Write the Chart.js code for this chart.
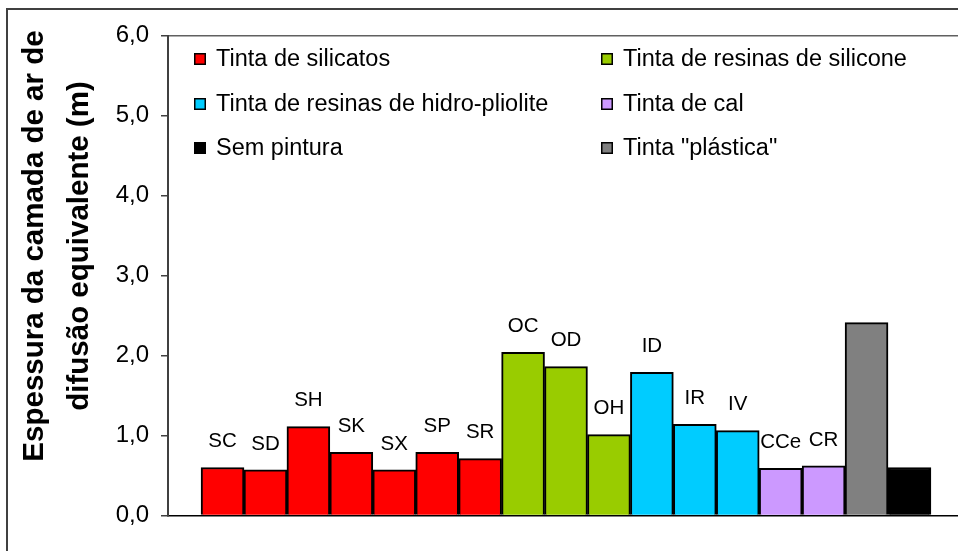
<!DOCTYPE html>
<html>
<head>
<meta charset="utf-8">
<script src="https://cdn.jsdelivr.net/npm/chart.js@4.4.1/dist/chart.umd.min.js"></script>
<style>
    html, body { margin: 0; padding: 0; background: #fff; overflow: hidden; }
    #wrap { position: relative; width: 958px; height: 551px; }
    #frame { position: absolute; left: 6px; top: 8px; width: 1000px; height: 600px;
             border-left: 2px solid #404040; border-top: 2px solid #404040; pointer-events: none; }
</style>
</head>
<body>
<div id="wrap">
    <canvas id="chart" width="958" height="551"></canvas>
    <div id="frame"></div>
</div>
<script>
// dados
const barLabels = ['SC', 'SD', 'SH', 'SK', 'SX', 'SP', 'SR', 'OC', 'OD', 'OH', 'ID', 'IR', 'IV', 'CCe', 'CR', '', ''];
const barValues = [0.60, 0.57, 1.11, 0.79, 0.57, 0.79, 0.71, 2.04, 1.86, 1.01, 1.79, 1.14, 1.06, 0.59, 0.62, 2.41, 0.60];
const barGroups = [0, 0, 0, 0, 0, 0, 0, 1, 1, 1, 2, 2, 2, 3, 3, 5, 4];

const groupNames = ['Tinta de silicatos', 'Tinta de resinas de silicone', 'Tinta de resinas de hidro-pliolite',
    'Tinta de cal', 'Sem pintura', 'Tinta "plástica"'];
const groupColors = ['#FF0000', '#99CC00', '#00CCFF', '#CC99FF', '#000000', '#808080'];

const yTicks = [0, 1, 2, 3, 4, 5, 6];
const yTitle = ['Espessura da camada de ar de', 'difusão equivalente (m)'];

Chart.defaults.font.family = "'Liberation Sans', Arial, sans-serif";
Chart.defaults.color = '#000';

// rótulos por cima das barras
const barLabelPlugin = {
    id: 'barLabels',
    afterDatasetsDraw(chart) {
        const ctx = chart.ctx;
        const meta = chart.getDatasetMeta(0);
        ctx.save();
        ctx.font = "20.5px 'Liberation Sans', Arial";
        ctx.fillStyle = '#000';
        ctx.textAlign = 'center';
        ctx.textBaseline = 'middle';
        meta.data.forEach((bar, i) => {
            if (barLabels[i]) ctx.fillText(barLabels[i], bar.x, bar.y - 26);
        });
        ctx.restore();
    }
};

// legenda em duas colunas dentro da área do gráfico
const legendPlugin = {
    id: 'gridLegend',
    afterDraw(chart) {
        const ctx = chart.ctx;
        const colX = [194, 601];
        const rowY = [59, 104, 148];
        ctx.save();
        ctx.font = "23.5px 'Liberation Sans', Arial";
        ctx.textBaseline = 'middle';
        ctx.textAlign = 'left';
        groupNames.forEach((name, i) => {
            const x = colX[i % 2];
            const y = rowY[Math.floor(i / 2)];
            ctx.fillStyle = groupColors[i];
            ctx.fillRect(x, y - 6, 12, 12);
            ctx.strokeStyle = '#000';
            ctx.lineWidth = 1.5;
            ctx.strokeRect(x + 0.75, y - 5.25, 10.5, 10.5);
            ctx.fillStyle = '#000';
            ctx.fillText(name, x + 22, y + 1);
        });
        ctx.restore();
    }
};

// título do eixo y (duas linhas, rodado)
const yTitlePlugin = {
    id: 'yTitle',
    afterDraw(chart) {
        const ctx = chart.ctx;
        const baseX = [43, 88];
        ctx.save();
        ctx.font = "bold 29.5px 'Liberation Sans', Arial";
        ctx.fillStyle = '#000';
        ctx.textAlign = 'center';
        ctx.textBaseline = 'alphabetic';
        yTitle.forEach((line, i) => {
            ctx.save();
            ctx.translate(baseX[i], 246);
            ctx.rotate(-Math.PI / 2);
            ctx.fillText(line, 0, 0);
            ctx.restore();
        });
        ctx.restore();
    }
};

new Chart(document.getElementById('chart'), {
    type: 'bar',
    data: {
        datasets: [{
            data: barValues.map((v, i) => ({ x: i, y: v })),
            backgroundColor: barGroups.map(g => groupColors[g]),
            borderColor: '#000',
            borderWidth: 2,
            barPercentage: 1,
            categoryPercentage: 1
        }]
    },
    options: {
        responsive: false,
        animation: false,
        layout: { padding: { top: 35.5, right: 0, bottom: 35.5, left: 0 } },
        plugins: {
            legend: { display: false },
            tooltip: { enabled: false }
        },
        scales: {
            x: {
                type: 'linear',
                min: -1.27,
                max: 17.13,
                grid: { display: false, drawTicks: false },
                border: { display: true, color: '#000', width: 1.5 },
                ticks: { display: false },
                afterBuildTicks: s => { s.ticks = []; },
                afterFit: s => { s.height = 0; }
            },
            y: {
                min: 0,
                max: 6,
                afterBuildTicks: s => { s.ticks = yTicks.map(v => ({ value: v })); },
                afterFit: s => { s.width = 168; },
                ticks: {
                    padding: 12,
                    font: { size: 24 },
                    color: '#000',
                    callback: v => v.toFixed(1).replace('.', ',')
                },
                grid: {
                    tickLength: 7,
                    tickColor: '#404040',
                    color: c => (c.tick && c.tick.value === 6) ? '#606060' : 'rgba(0,0,0,0)',
                    lineWidth: 1.5
                },
                border: { display: true, color: '#404040', width: 2 }
            }
        }
    },
    plugins: [barLabelPlugin, legendPlugin, yTitlePlugin]
});
</script>
</body>
</html>
